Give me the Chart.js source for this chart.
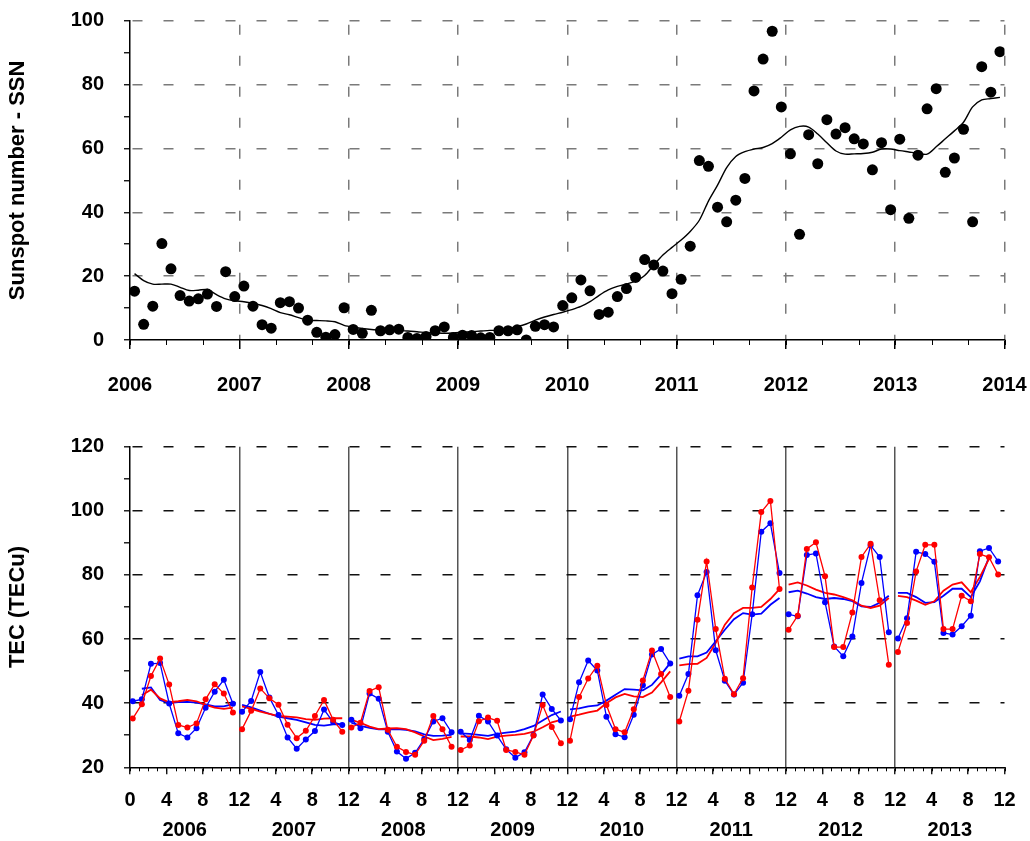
<!DOCTYPE html>
<html>
<head>
<meta charset="utf-8">
<script src="https://cdn.jsdelivr.net/npm/chart.js@4/dist/chart.umd.min.js"></script>
<style>
  html, body { margin: 0; padding: 0; background: #fff; }
  #wrap { position: relative; width: 1030px; height: 841px; overflow: hidden; }
  canvas { position: absolute; left: 0; }
  #ssn-chart { top: 0; }
  #tec-chart { top: 410px; }
</style>
</head>
<body>
<div id="wrap">
  <canvas id="ssn-chart" width="1030" height="410"></canvas>
  <canvas id="tec-chart" width="1030" height="431"></canvas>
</div>
<script>
// ---- data ----
const years = ['2006', '2007', '2008', '2009', '2010', '2011', '2012', '2013'];

// monthly sunspot number, Jan 2006 .. Dec 2013
const ssnMonthly = [
  15.3, 4.9, 10.6, 30.2, 22.3, 13.9, 12.2, 12.9, 14.4, 10.5, 21.4, 13.6,
  16.9, 10.6, 4.8, 3.7, 11.7, 12.0, 10.0, 6.2, 2.4, 0.9, 1.7, 10.1,
  3.3, 2.1, 9.3, 2.9, 3.2, 3.4, 0.8, 0.5, 1.1, 2.9, 4.1, 0.8,
  1.5, 1.4, 0.7, 0.8, 2.9, 2.9, 3.2, 0.0, 4.3, 4.8, 4.1, 10.8,
  13.2, 18.8, 15.4, 8.0, 8.7, 13.6, 16.1, 19.6, 25.2, 23.5, 21.6, 14.5,
  19.0, 29.4, 56.2, 54.4, 41.6, 37.0, 43.8, 50.6, 78.0, 88.0, 96.7, 73.0,
  58.3, 33.1, 64.3, 55.2, 69.0, 64.5, 66.5, 63.0, 61.4, 53.3, 61.8, 40.8,
  62.9, 38.1, 57.9, 72.4, 78.7, 52.5, 57.0, 66.0, 37.0, 85.6, 77.6, 90.3
];

// smoothed sunspot number
const ssnSmooth = [
  20.8, 18.6, 17.5, 17.5, 17.5, 16.5, 15.5, 15.6, 15.8, 14.2, 12.9, 12.3,
  12.0, 11.5, 10.8, 9.8, 8.6, 7.9, 7.0, 6.2, 6.1, 6.0, 5.7, 4.6,
  4.0, 3.6, 3.3, 3.1, 2.9, 3.0, 2.8, 2.6, 2.3, 2.2, 2.1, 2.2,
  2.4, 2.6, 2.8, 3.0, 3.1, 3.6, 4.2, 5.0, 6.2, 7.2, 8.0, 8.7,
  9.5, 10.5, 12.0, 14.0, 15.7, 16.8, 17.5, 18.5, 20.2, 23.5, 26.6, 29.0,
  31.3, 34.0, 37.5, 43.5, 48.5, 54.0, 57.5, 59.0, 59.8, 60.3, 61.5, 63.5,
  65.8, 66.9, 66.7, 64.5, 61.8, 59.2, 58.2, 58.3, 58.4, 58.8, 59.8, 59.8,
  59.3, 58.9, 58.5, 58.2, 60.5, 63.0, 65.5, 68.2, 73.0, 75.2, 75.6, 76.0
];

// monthly TEC (TECu), red series
const tecRed = [
  35.2, 39.7, 48.5, 53.9, 45.8, 33.2, 32.4, 33.7, 41.2, 45.9, 43.0, 37.1,
  31.9, 37.6, 44.6, 41.5, 39.5, 33.3, 29.1, 31.4, 36.0, 41.0, 34.8, 31.1,
  32.4, 33.9, 43.8, 45.0, 31.7, 26.4, 24.8, 23.9, 28.3, 36.0, 31.9, 26.4,
  25.4, 26.8, 34.4, 35.5, 34.5, 25.4, 24.8, 23.9, 29.9, 39.4, 32.6, 27.5,
  28.3, 41.9, 47.7, 51.7, 39.4, 31.9, 30.9, 38.1, 47.1, 56.4, 49.1, 41.9,
  34.3, 43.9, 66.0, 84.2, 63.1, 47.6, 42.8, 47.8, 76.1, 99.6, 103.1, 75.6,
  62.9, 67.3, 88.1, 90.2, 79.6, 57.5, 57.5, 68.3, 85.6, 89.7, 72.1, 52.0,
  56.0, 65.0, 81.1, 89.4, 89.4, 63.1, 63.1, 73.5, 71.8, 86.5, 85.5, 80.1
];

// monthly TEC (TECu), blue series
const tecBlue = [
  40.6, 41.2, 52.3, 52.5, 39.9, 30.6, 29.3, 32.2, 38.6, 43.6, 47.3, 39.8,
  37.3, 40.7, 49.7, 41.8, 36.3, 29.3, 25.8, 28.7, 31.3, 38.0, 34.1, 33.2,
  34.8, 32.2, 43.0, 41.4, 31.1, 24.9, 22.7, 24.5, 28.8, 34.3, 35.3, 30.9,
  31.1, 28.5, 36.1, 34.3, 29.9, 25.6, 23.0, 24.7, 30.1, 42.7, 38.2, 34.6,
  35.0, 46.5, 53.3, 50.2, 35.8, 30.3, 29.4, 36.4, 45.6, 55.2, 56.9, 52.4,
  42.3, 49.1, 73.7, 80.9, 56.5, 47.0, 42.7, 46.4, 67.7, 93.5, 96.1, 80.6,
  67.7, 67.1, 86.2, 86.7, 71.5, 57.7, 54.6, 60.8, 77.5, 89.2, 85.6, 62.1,
  60.2, 66.5, 87.2, 86.5, 84.1, 61.9, 61.4, 64.0, 67.3, 87.4, 88.4, 84.2
];

// smoothed TEC
const tecRedSmooth = [
  null, 42.5, 44.2, 41.5, 40.3, 40.6, 41.0, 40.6, 39.5, 38.6, 38.2, 38.6,
  39.0, 38.2, 37.4, 36.7, 36.0, 35.8, 35.6, 35.0, 34.8, 35.2, 35.3, 35.3,
  34.8, 33.9, 32.7, 31.9, 32.1, 32.2, 31.9, 30.9, 29.6, 28.5, 28.9, 29.5,
  29.6, 29.6, 29.3, 28.8, 29.6, 29.9, 30.1, 30.4, 31.1, 32.5, 34.0, 34.8,
  35.8, 36.4, 37.1, 37.7, 40.0, 41.8, 42.9, 42.1, 41.9, 43.3, 46.5, 49.9,
  51.8, 52.2, 52.3, 54.1, 58.8, 64.5, 68.1, 69.7, 69.7, 70.0, 72.5, 75.6,
  77.0, 77.7, 76.7, 75.4, 74.4, 73.9, 73.1, 72.1, 70.4, 69.7, 70.4, 72.8,
  73.5, 73.1, 72.0, 70.7, 71.8, 75.1, 77.0, 77.7, 74.6, 79.4, 85.0, null
];
const tecBlueSmooth = [
  null, 44.5, 44.9, 41.0, 40.0, 40.3, 40.4, 40.2, 39.6, 39.0, 39.0, 39.7,
  39.5, 38.7, 37.7, 36.7, 35.8, 35.3, 34.8, 34.0, 33.2, 33.0, 33.4, 33.4,
  33.9, 32.9, 32.3, 31.8, 31.8, 31.9, 31.7, 31.2, 30.3, 29.8, 29.9, 30.1,
  30.6, 30.4, 30.1, 29.8, 30.4, 30.8, 31.1, 31.9, 32.9, 34.6, 36.3, 37.4,
  38.1, 38.4, 39.0, 39.3, 40.8, 42.6, 44.4, 44.2, 44.0, 45.7, 48.9, 52.5,
  53.9, 54.6, 54.6, 55.8, 59.3, 62.9, 66.2, 68.1, 67.6, 67.9, 70.7, 72.8,
  74.6, 75.1, 74.2, 73.1, 72.5, 72.8, 72.5, 71.8, 70.2, 70.0, 71.3, 73.5,
  74.4, 74.4, 73.1, 71.3, 71.5, 73.5, 75.7, 75.7, 73.1, 78.0, 85.6, null
];

// ---- helpers ----
const FONT = 'Arial, "Liberation Sans", sans-serif';
const tickFont = { family: FONT, size: 20, weight: 'bold' };
const titleFont = { family: FONT, size: 22, weight: 'bold' };

// top panel: month i plotted at mid-month as a decimal year
const ssnPoints = (arr) => arr.map((v, i) => ({ x: 2006 + (i + 0.5) / 12, y: v }));

// bottom panel: each year is its own 0-12 segment, line broken between years
const tecPoints = (arr) => {
  const out = [];
  arr.forEach((v, i) => {
    out.push({ x: i + 0.3, y: v });
    if (i % 12 === 11) out.push({ x: i + 1, y: null });
  });
  return out;
};

// pin an axis box size and drop the label overflow padding, so the plot area lands where the original has it
const pinSize = (w, h) => (s) => {
  if (w != null) s.width = w;
  if (h != null) s.height = h;
  s.paddingTop = s.paddingBottom = s.paddingLeft = s.paddingRight = 0;
};

// small unlabeled ticks between the major ones
const minorTicks = {
  id: 'minorTicks',
  afterDraw(chart, args, opts) {
    const sx = chart.scales.x;
    const ctx = chart.ctx;
    const n = Math.round((sx.max - sx.min) / opts.step);
    ctx.save();
    ctx.strokeStyle = '#000';
    ctx.lineWidth = 1;
    for (let k = 0; k <= n; k++) {
      const px = Math.round(sx.getPixelForValue(sx.min + k * opts.step)) + 0.5;
      ctx.beginPath();
      ctx.moveTo(px, sx.top);
      ctx.lineTo(px, sx.top + opts.len);
      ctx.stroke();
    }
    ctx.restore();
  }
};

Chart.defaults.animation = false;
Chart.defaults.color = '#000';

// ---- top: sunspot number ----
new Chart(document.getElementById('ssn-chart'), {
  type: 'scatter',
  data: {
    datasets: [
      {
        data: ssnPoints(ssnMonthly),
        showLine: false,
        pointRadius: 5.5,
        pointBackgroundColor: '#000',
        pointBorderWidth: 0
      },
      {
        data: ssnPoints(ssnSmooth),
        showLine: true,
        borderColor: '#000',
        borderWidth: 1.4,
        pointRadius: 0,
        tension: 0.3
      }
    ]
  },
  options: {
    responsive: false,
    layout: { autoPadding: false, padding: { top: 20.7, right: 25.5, left: 0, bottom: 0 } },
    plugins: { legend: { display: false }, tooltip: { enabled: false }, minorTicks: { step: 1 / 3, len: 5 } },
    scales: {
      x: {
        type: 'linear', min: 2006, max: 2014,
        afterFit: pinSize(null, 70),
        ticks: { stepSize: 1, font: tickFont, padding: 24, maxRotation: 0, callback: (v) => String(v) },
        grid: {
          color: (c) => c.tick && c.tick.value > 2006 ? '#7a7a7a' : 'rgba(0,0,0,0)',
          lineWidth: 1.5, tickLength: 9, tickColor: '#000', tickWidth: 1.5
        },
        border: { color: '#000', width: 1.5, dash: [10, 21], dashOffset: -4 }
      },
      y: {
        min: 0, max: 100,
        afterFit: pinSize(130, null),
        ticks: { stepSize: 10, font: tickFont, padding: 20, callback: (v) => v % 20 === 0 ? String(v) : '' },
        grid: {
          color: (c) => c.tick && c.tick.value % 20 === 0 && c.tick.value > 0 ? '#7a7a7a' : 'rgba(0,0,0,0)',
          lineWidth: 1.5, tickLength: 6, tickColor: '#000', tickWidth: 1.3
        },
        border: { color: '#000', width: 1.5, dash: [10, 21], dashOffset: -2 },
        title: { display: true, text: 'Sunspot number - SSN', font: titleFont, padding: { top: 5, bottom: 0 } }
      }
    }
  },
  plugins: [minorTicks]
});

// ---- bottom: TEC ----
const RED = '#ff0000';
const BLUE = '#0000ff';
new Chart(document.getElementById('tec-chart'), {
  type: 'scatter',
  data: {
    datasets: [
      { data: tecPoints(tecRed), showLine: true, borderColor: RED, borderWidth: 1.3,
        pointRadius: 3, pointBackgroundColor: RED, pointBorderWidth: 0 },
      { data: tecPoints(tecBlue), showLine: true, borderColor: BLUE, borderWidth: 1.3,
        pointRadius: 3, pointBackgroundColor: BLUE, pointBorderWidth: 0 },
      { data: tecPoints(tecRedSmooth), showLine: true, borderColor: RED, borderWidth: 1.8, pointRadius: 0 },
      { data: tecPoints(tecBlueSmooth), showLine: true, borderColor: BLUE, borderWidth: 1.8, pointRadius: 0 }
    ]
  },
  options: {
    responsive: false,
    layout: { autoPadding: false, padding: { top: 36.7, right: 25.5, left: 0, bottom: 0 } },
    plugins: { legend: { display: false }, tooltip: { enabled: false }, minorTicks: { step: 1, len: 4 } },
    scales: {
      x: {
        type: 'linear', min: 0, max: 96, weight: 0,
        afterFit: pinSize(null, 45),
        ticks: {
          stepSize: 4, font: tickFont, padding: 13.7, maxRotation: 0, autoSkip: false,
          callback: (v) => v === 0 ? '0' : (v % 12 === 0 ? '12' : String(v % 12))
        },
        grid: {
          color: (c) => c.tick && c.tick.value % 12 === 0 && c.tick.value > 0 && c.tick.value < 96 ? '#555' : 'rgba(0,0,0,0)',
          lineWidth: 1.5, tickLength: 7, tickColor: '#000', tickWidth: 1.3
        },
        border: { color: '#000', width: 1.5 }
      },
      xYear: {
        type: 'linear', position: 'bottom', min: 0, max: 96, weight: 1,
        afterFit: pinSize(null, 28.7),
        afterBuildTicks: (s) => { s.ticks = years.map((y, i) => ({ value: 12 * i + 6 })); },
        ticks: { font: tickFont, padding: 5.7, maxRotation: 0, autoSkip: false,
          callback: (v) => years[Math.round((v - 6) / 12)] },
        grid: { display: false, drawTicks: false },
        border: { display: false }
      },
      y: {
        min: 20, max: 120,
        afterFit: pinSize(130, null),
        ticks: { stepSize: 10, font: tickFont, padding: 20, callback: (v) => v % 20 === 0 ? String(v) : '' },
        grid: {
          color: (c) => c.tick && c.tick.value % 20 === 0 && c.tick.value > 20 ? '#111' : 'rgba(0,0,0,0)',
          lineWidth: 1.6, tickLength: 6, tickColor: '#000', tickWidth: 1.3
        },
        border: { color: '#000', width: 1.5, dash: [10, 21], dashOffset: -2 },
        title: { display: true, text: 'TEC (TECu)', font: titleFont, padding: { top: 5, bottom: 0 } }
      }
    }
  },
  plugins: [minorTicks]
});
</script>
</body>
</html>
